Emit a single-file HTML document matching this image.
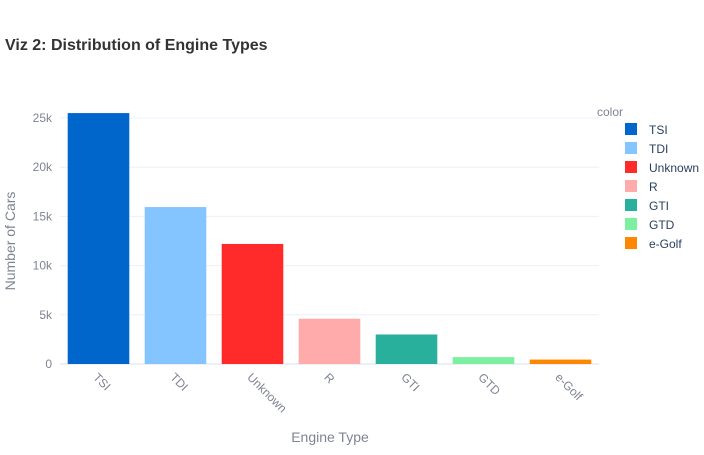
<!DOCTYPE html>
<html><head><meta charset="utf-8"><style>
body{margin:0;background:#fff;font-family:"Liberation Sans",Arial,sans-serif}
</style></head><body>
<svg id="c" width="704" height="450" xmlns="http://www.w3.org/2000/svg">
<text x="5" y="50" font-size="16" font-weight="bold" fill="#333">Viz 2: Distribution of Engine Types</text>
<g id="grid"></g><g id="bars"></g><g id="xt"></g><g id="yt"></g><g id="leg"></g>
<text x="330" y="442" font-size="14" fill="#7f8492" text-anchor="middle">Engine Type</text>
<text transform="translate(15,241) rotate(-90)" font-size="14" fill="#7f8492" text-anchor="middle">Number of Cars</text>
</svg>
<script>
const categories=["TSI","TDI","Unknown","R","GTI","GTD","e-Golf"];
const counts=[25500,15950,12200,4600,3000,700,450];
const colors=["#0066cc","#85c5ff","#ff2b2b","#ffabab","#29b09d","#7defa1","#ff8700"];
const yTicks=[0,5000,10000,15000,20000,25000];
const yTickLabels=["0","5k","10k","15k","20k","25k"];
const NS="http://www.w3.org/2000/svg";
const X0=60,X1=599,Y0=364,Y25=118;
const y=v=>Y0-(v/25000)*(Y0-Y25);
const bw=(X1-X0)/categories.length;
const x=i=>X0+i*bw;
function mk(t,a,p){const e=document.createElementNS(NS,t);for(const k in a)e.setAttribute(k,a[k]);document.getElementById(p).appendChild(e);return e;}
yTicks.forEach((t,i)=>{
  const l=mk("line",{x1:X0,x2:X1,y1:y(t),y2:y(t),stroke:"#ebf0f8","stroke-width":t===0?2:1},"grid");
  
  
  const tx=mk("text",{x:X0-8,y:y(t)+4,"font-size":12,fill:"#7f8492","text-anchor":"end"},"yt");
  tx.textContent=yTickLabels[i];
  
  
});
categories.forEach((c,i)=>{
  const r=mk("rect",{x:x(i)+bw*0.1,width:bw*0.8,y:y(counts[i]),height:Y0-y(counts[i]),fill:colors[i]},"bars");
  
  
  const cx=x(i)+bw/2;
  const t=mk("text",{x:cx-6,y:378,"font-size":12,fill:"#7f8492",transform:`rotate(45 ${cx-6} 378)`},"xt");
  t.textContent=c;
  
  
  const s=mk("rect",{x:625,y:123+i*19,width:12,height:12,fill:colors[i]},"leg");
  
  
  const lt=mk("text",{x:649,y:134+i*19,"font-size":12,fill:"#2a3f5f"},"leg");
  lt.textContent=c;
  
  
});
const lg=mk("text",{x:597,y:116,"font-size":12,fill:"#7f8492"},"leg");
lg.textContent="color";


</script>
</body></html>
